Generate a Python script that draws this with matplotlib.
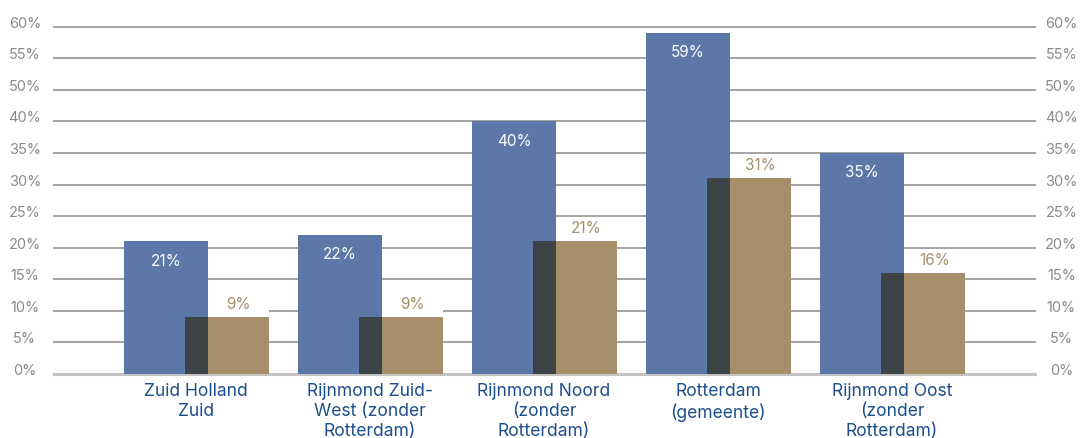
import numpy as np
import matplotlib
matplotlib.use("Agg")
import matplotlib.pyplot as plt

plt.rcParams['font.family'] = ['Inter', 'DejaVu Sans']

# Data
categories = [
    "Zuid Holland\nZuid",
    "Rijnmond Zuid-\nWest (zonder\nRotterdam)",
    "Rijnmond Noord\n(zonder\nRotterdam)",
    "Rotterdam\n(gemeente)",
    "Rijnmond Oost\n(zonder\nRotterdam)",
]
series_blue = [21, 22, 40, 59, 35]
series_tan = [9, 9, 21, 31, 16]
tick_values = [0, 5, 10, 15, 20, 25, 30, 35, 40, 50, 55, 60]
tick_labels = [f"{v}%" for v in tick_values]

BLUE = "#5b78a9"
TAN = "#a68e6a"
DARK = "#3c4448"
LABEL_BLUE = "#1d4f8c"
GREY_TXT = "#8a8a8a"

# Piecewise-linear value axis: each listed tick gets an evenly spaced gridline
knots_v = np.array([-5] + tick_values + [65], dtype=float)
knots_p = np.arange(len(knots_v), dtype=float) - 1


def fwd(v):
    return np.interp(v, knots_v, knots_p)


def inv(p):
    return np.interp(p, knots_p, knots_v)


fig = plt.figure(figsize=(10.82, 4.39), dpi=100)
ax = fig.add_axes([54 / 1082, 1 - 375 / 439, 981 / 1082, (375 - 24.6) / 439])
ax.set_yscale('function', functions=(fwd, inv))
ax.set_ylim(0, 60.5)
ax.set_xlim(-0.816, 4.822)

x = np.arange(len(categories))
width = 0.4828
off_b = -0.1724
off_t = 0.178

# Gridlines
for v in tick_values:
    if v == 0:
        ax.axhline(v, color="#c4c4c4", lw=2.2, zorder=0.5, clip_on=False)
    else:
        ax.axhline(v, color="#a3a3a3", lw=1.4, zorder=0.5, clip_on=False)

# White patch behind the tan value labels
ax.bar(x + off_t, [2.2] * len(x), bottom=series_tan, width=width,
       color="white", zorder=0.8)

ax.bar(x + off_b, series_blue, width=width, color=BLUE, zorder=1)
ax.bar(x + off_t, series_tan, width=width, color=TAN, zorder=1.1)

# Overlap of the two bars in a darker tone
ov_left = x + off_t - width / 2
ov_right = x + off_b + width / 2
ov_h = np.minimum(series_blue, series_tan)
ax.bar((ov_left + ov_right) / 2, ov_h, width=ov_right - ov_left,
       color=DARK, zorder=1.2)

for xi, v in zip(x, series_blue):
    ax.annotate(f"{v}%", (xi + off_b, v), xytext=(0, -8), textcoords="offset points",
                ha="center", va="top", color="white", fontsize=11, zorder=3)
# Tan labels sit over the uncovered part of the tan bar
tan_vis_center = (ov_right + x + off_t + width / 2) / 2
for xc, v in zip(tan_vis_center, series_tan):
    ax.annotate(f"{v}%", (xc, v), xytext=(0, 6.5), textcoords="offset points",
                ha="center", va="baseline", color=TAN, fontsize=11, zorder=3)

for s in ax.spines.values():
    s.set_visible(False)

ax.set_xticks(x)
ax.set_xticklabels(categories, color=LABEL_BLUE, fontsize=12.6, linespacing=1.22)
ax.tick_params(axis='x', length=0, pad=6)

ax.set_yticks(tick_values)
ax.set_yticklabels(tick_labels)
ax.yaxis.set_minor_locator(matplotlib.ticker.NullLocator())
ax.tick_params(axis='y', length=0, pad=21, labelcolor=GREY_TXT, labelsize=10.5)
for lab in ax.get_yticklabels():
    lab.set_horizontalalignment('center')
    lab.set_verticalalignment('baseline')

ax2 = ax.twinx()
ax2.set_yscale('function', functions=(fwd, inv))
ax2.set_ylim(ax.get_ylim())
for s in ax2.spines.values():
    s.set_visible(False)
ax2.set_yticks(tick_values)
ax2.set_yticklabels(tick_labels)
ax2.yaxis.set_minor_locator(matplotlib.ticker.NullLocator())
ax2.tick_params(axis='y', length=0, pad=19, labelcolor=GREY_TXT, labelsize=10.5)
for lab in ax2.get_yticklabels():
    lab.set_horizontalalignment('center')
    lab.set_verticalalignment('baseline')

fig.savefig("out.png", dpi=100)
